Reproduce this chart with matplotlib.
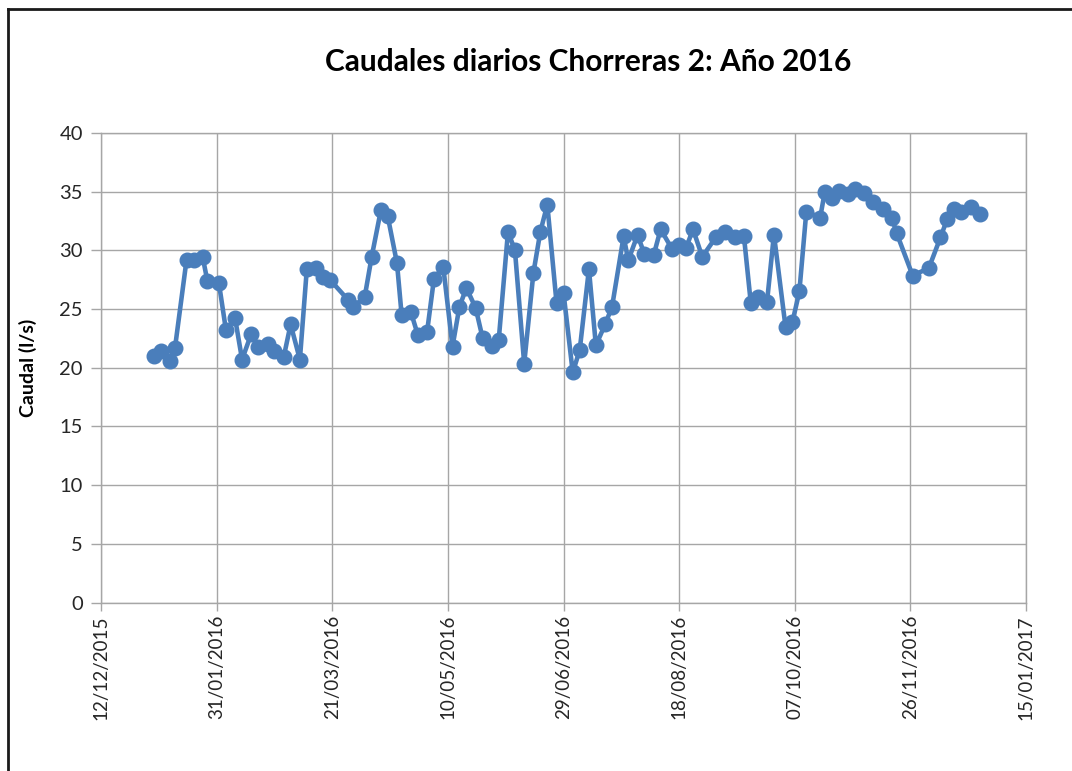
import pandas as pd
import matplotlib
matplotlib.use('Agg')
import matplotlib.pyplot as plt
import matplotlib.dates as mdates
from matplotlib.lines import Line2D

# Datos (caudal en l/s)
fechas = [
    '2016-01-04', '2016-01-07', '2016-01-11', '2016-01-13', '2016-01-18', '2016-01-21',
    '2016-01-25', '2016-01-27', '2016-02-01', '2016-02-04', '2016-02-08', '2016-02-11',
    '2016-02-15', '2016-02-18', '2016-02-22', '2016-02-25', '2016-02-29', '2016-03-03',
    '2016-03-07', '2016-03-10', '2016-03-14', '2016-03-17', '2016-03-20', '2016-03-28',
    '2016-03-30', '2016-04-04', '2016-04-07', '2016-04-11', '2016-04-14', '2016-04-18',
    '2016-04-20', '2016-04-24', '2016-04-27', '2016-05-01', '2016-05-04', '2016-05-08',
    '2016-05-12', '2016-05-15', '2016-05-18', '2016-05-22', '2016-05-25', '2016-05-29',
    '2016-06-01', '2016-06-05', '2016-06-08', '2016-06-12', '2016-06-16', '2016-06-19',
    '2016-06-22', '2016-06-26', '2016-06-29', '2016-07-03', '2016-07-06', '2016-07-10',
    '2016-07-13', '2016-07-17', '2016-07-20', '2016-07-25', '2016-07-27', '2016-07-31',
    '2016-08-03', '2016-08-07', '2016-08-10', '2016-08-15', '2016-08-18', '2016-08-21',
    '2016-08-24', '2016-08-28', '2016-09-03', '2016-09-07', '2016-09-11', '2016-09-15',
    '2016-09-18', '2016-09-21', '2016-09-25', '2016-09-28', '2016-10-03', '2016-10-06',
    '2016-10-09', '2016-10-12', '2016-10-18', '2016-10-20', '2016-10-23', '2016-10-26',
    '2016-10-30', '2016-11-02', '2016-11-06', '2016-11-10', '2016-11-14', '2016-11-18',
    '2016-11-20', '2016-11-27', '2016-12-04', '2016-12-09', '2016-12-12', '2016-12-15',
    '2016-12-18', '2016-12-22', '2016-12-26',
]
caudal = [
    21.0, 21.4, 20.6, 21.7, 29.2, 29.15, 29.4, 27.4, 27.2, 23.25, 24.2, 20.7,
    22.9, 21.8, 22.05, 21.4, 20.9, 23.7, 20.7, 28.4, 28.5, 27.7, 27.5, 25.75,
    25.2, 26.0, 29.4, 33.4, 32.9, 28.9, 24.5, 24.75, 22.8, 23.05, 27.6, 28.6,
    21.8, 25.2, 26.8, 25.1, 22.55, 21.85, 22.4, 31.6, 30.0, 20.35, 28.1, 31.6,
    33.9, 25.5, 26.4, 19.6, 21.5, 28.4, 21.9, 23.7, 25.2, 31.2, 29.15, 31.3,
    29.7, 29.6, 31.8, 30.1, 30.5, 30.2, 31.8, 29.45, 31.15, 31.6, 31.15, 31.25,
    25.5, 26.0, 25.6, 31.35, 23.5, 23.9, 26.5, 33.3, 32.8, 35.0, 34.5, 35.1,
    34.8, 35.2, 34.9, 34.15, 33.5, 32.8, 31.5, 27.85, 28.5, 31.1, 32.7, 33.5,
    33.3, 33.7, 33.1,
]
x_inicio = '2015-12-12'
x_fin = '2017-01-15'
y_ticks = [0, 5, 10, 15, 20, 25, 30, 35, 40]

titulo = 'Caudales diarios Chorreras 2: Año 2016'
etiqueta_y = 'Caudal (l/s)'

fechas = pd.to_datetime(fechas)
x_ticks = pd.date_range(x_inicio, x_fin, freq='50D')

gris = '#a6a6a6'
azul = '#4a7ebb'

fig = plt.figure(figsize=(10.72, 7.71), dpi=100)
ax = fig.add_axes([101 / 1072, 1 - 602.5 / 771, (1026 - 101) / 1072, (602.5 - 133) / 771])

ax.plot(fechas, caudal, color=azul, linewidth=3.3, marker='o', markersize=10.5,
        markeredgecolor=azul, zorder=3)

ax.set_xlim(pd.Timestamp(x_inicio), pd.Timestamp(x_fin))
ax.set_ylim(0, 40)
ax.set_yticks(y_ticks)
ax.set_xticks(x_ticks)
ax.xaxis.set_major_formatter(mdates.DateFormatter('%d/%m/%Y'))

ax.grid(True, color=gris, linewidth=1)
ax.set_axisbelow(True)
for s in ax.spines.values():
    s.set_color(gris)
    s.set_linewidth(1)

ax.tick_params(axis='y', length=7, width=1, color=gris, labelsize=14.5,
               labelcolor='#262626', pad=6)
ax.tick_params(axis='x', length=6, width=1, color=gris, labelsize=13.5,
               labelcolor='#262626', pad=3, labelrotation=90)
for lbl in ax.get_yticklabels() + ax.get_xticklabels():
    lbl.set_family('Lato')

ax.set_ylabel(etiqueta_y, fontsize=14, fontweight='bold', family='Lato')
ax.yaxis.set_label_coords(-0.069, 0.5)

fig.text(588 / 1072, 1 - 62 / 771, titulo, ha='center', va='center',
         fontsize=21.5, fontweight='bold', family='Lato')

# marco del grafico (como en Excel)
fig.add_artist(Line2D([8 / 1072, 8 / 1072], [0, 1 - 9 / 771], transform=fig.transFigure,
                      color='#1a1a1a', linewidth=2))
fig.add_artist(Line2D([8 / 1072, 1], [1 - 9 / 771, 1 - 9 / 771], transform=fig.transFigure,
                      color='#1a1a1a', linewidth=2))

fig.savefig('out.png', dpi=100)
